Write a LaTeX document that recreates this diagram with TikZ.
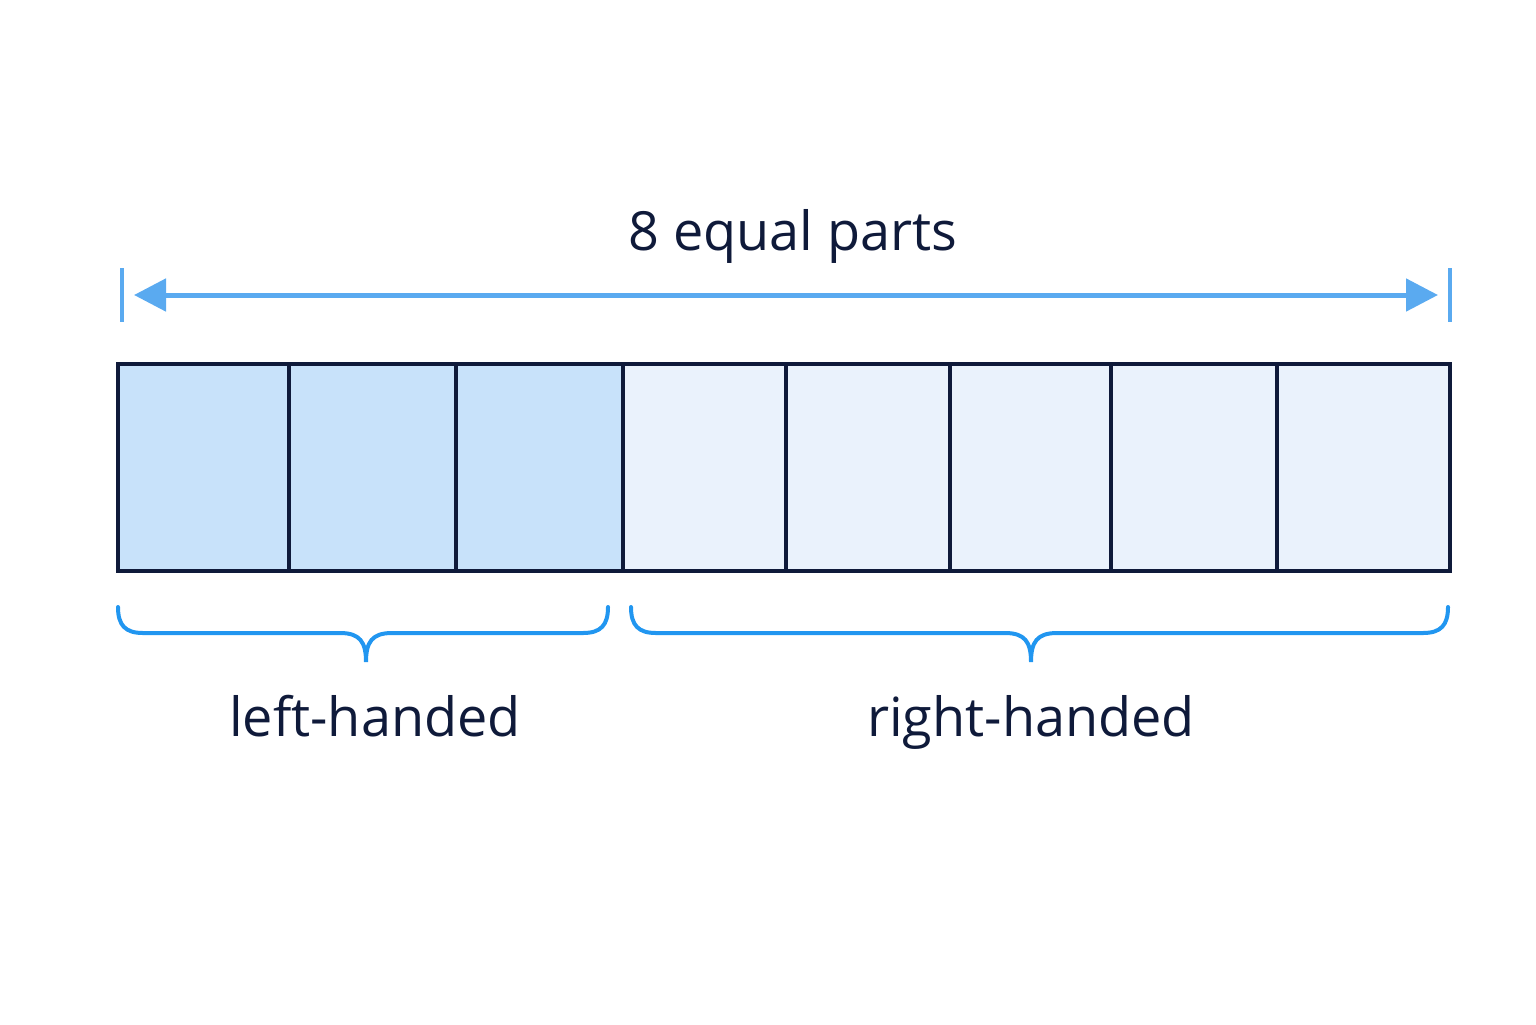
\documentclass[tikz,border=0pt]{standalone}
\usepackage{fontspec}
\setmainfont{Open Sans}
\usetikzlibrary{arrows.meta}
\definecolor{navy}{HTML}{0F1A3A}
\definecolor{lfill}{HTML}{C8E2FA}
\definecolor{rfill}{HTML}{EAF2FC}
\definecolor{arr}{HTML}{5AAAF0}
\definecolor{br}{HTML}{2196F0}
\begin{document}
\begin{tikzpicture}[x=0.5pt,y=-0.5pt,
  cell/.style={draw=navy,line width=2pt},
  lbl/.style={text=navy,font=\fontsize{27}{30}\selectfont,inner sep=0,anchor=base},
  brace/.style={draw=br,line width=2pt,line cap=round}]
\useasboundingbox (0,0) rectangle (1536,1024);
\foreach \a/\b/\c in {118/289/lfill,289/456/lfill,456/623/lfill,623/786/rfill,786/950/rfill,950/1111/rfill,1111/1277/rfill,1277/1450/rfill}
  \draw[cell,fill=\c] (\a,364) rectangle (\b,571);
\node[lbl] (t) at (793,250) {8 equal parts};
\coordinate (tl1) at (122,268); \coordinate (tl2) at (122,322);
\coordinate (tr1) at (1450,268); \coordinate (tr2) at (1450,322);
\coordinate (al) at (122,295); \coordinate (ar) at (1450,295);
\draw[arr,line width=2pt] (tl1)--(tl2);
\draw[arr,line width=2pt] (tr1)--(tr2);
\draw[arr,line width=2.5pt,{Triangle[length=16pt,width=16pt]}-{Triangle[length=16pt,width=16pt]},shorten <=6pt,shorten >=6pt] (al)--(ar);
\draw[brace] (118,607) .. controls (118,625) and (125,633) .. (143,633) -- (340,633) .. controls (360,633) and (366,642) .. (366,662)
  .. controls (366,642) and (372,633) .. (392,633) -- (583,633) .. controls (601,633) and (608,625) .. (608,607);
\draw[brace] (631,607) .. controls (631,625) and (638,633) .. (656,633) -- (1005,633) .. controls (1025,633) and (1031,642) .. (1031,662)
  .. controls (1031,642) and (1037,633) .. (1057,633) -- (1423,633) .. controls (1441,633) and (1448,625) .. (1448,607);
\node[lbl] (l) at (375,736) {left-handed};
\node[lbl] (r) at (1031,736) {right-handed};
\end{tikzpicture}
\end{document}
